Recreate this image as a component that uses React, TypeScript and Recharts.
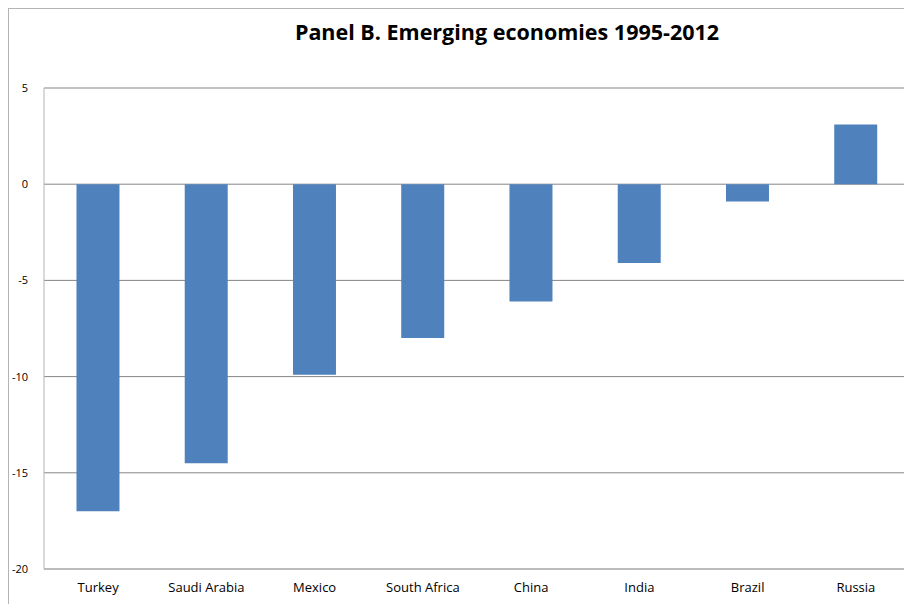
import { Bar, BarChart, CartesianGrid, XAxis, YAxis } from "recharts"

const countries = ["Turkey", "Saudi Arabia", "Mexico", "South Africa", "China", "India", "Brazil", "Russia"]
const changes = [-17.0, -14.5, -9.9, -8.0, -6.1, -4.1, -0.9, 3.1]
const yTicks = [5, 0, -5, -10, -15, -20]

const data = countries.map((name, i) => ({ name, value: changes[i] }))

const App = () => {
  return (
    <div
      style={{
        position: "relative",
        width: 903,
        height: 596,
        borderTop: "1px solid #b4b4b4",
        borderLeft: "1px solid #b4b4b4",
        fontFamily: "'Open Sans', sans-serif",
      }}
    >
      <div
        style={{
          position: "absolute",
          left: 200,
          width: 596,
          top: 8,
          textAlign: "center",
          fontWeight: 700,
          fontSize: 21.5,
          color: "#000",
        }}
      >
        Panel B. Emerging economies 1995-2012
      </div>
      <BarChart
        width={903}
        height={595}
        data={data}
        margin={{ top: 79, right: 2, bottom: 5, left: 0 }}
        barCategoryGap="30%"
      >
        <CartesianGrid vertical={false} stroke="#868686" />
        <XAxis
          dataKey="name"
          height={30}
          tickLine={false}
          axisLine={{ stroke: "#b4b4b4" }}
          tick={{ fill: "#000", fontSize: 13 }}
          tickMargin={8}
          interval={0}
        />
        <YAxis
          width={35}
          domain={[-20, 5]}
          ticks={yTicks}
          tickLine={false}
          axisLine={{ stroke: "#b4b4b4" }}
          tick={{ fill: "#000", fontSize: 11 }}
          tickMargin={10}
        />
        <Bar dataKey="value" fill="#4f81bd" isAnimationActive={false} />
      </BarChart>
    </div>
  )
}

export default App
